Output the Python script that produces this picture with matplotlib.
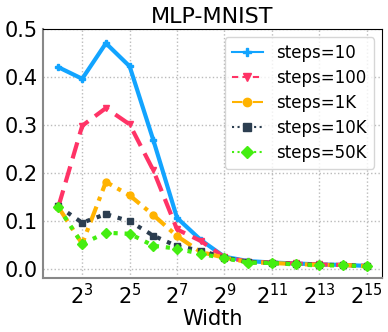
import matplotlib
matplotlib.use("Agg")
import matplotlib.pyplot as plt
from matplotlib.lines import Line2D
import numpy as np

widths = [2**k for k in range(2, 16)]
steps10 = [0.42, 0.396, 0.47, 0.422, 0.268, 0.106, 0.06, 0.025, 0.016, 0.013, 0.011, 0.009, 0.008, 0.006]
steps100 = [0.13, 0.298, 0.335, 0.301, 0.205, 0.082, 0.058, 0.024, 0.015, 0.013, 0.011, 0.009, 0.008, 0.006]
steps1k = [0.128, 0.052, 0.181, 0.153, 0.112, 0.068, 0.035, 0.023, 0.014, 0.012, 0.010, 0.008, 0.008, 0.005]
steps10k = [0.13, 0.096, 0.114, 0.099, 0.069, 0.047, 0.038, 0.023, 0.014, 0.012, 0.010, 0.008, 0.008, 0.005]
steps50k = [0.128, 0.052, 0.075, 0.073, 0.048, 0.042, 0.031, 0.022, 0.013, 0.012, 0.009, 0.007, 0.007, 0.005]
labels = ["steps=10", "steps=100", "steps=1K", "steps=10K", "steps=50K"]

fig = plt.figure(figsize=(3.88, 3.32), dpi=100)
ax = fig.add_axes([0.111, 0.163, 0.874, 0.750])

series = [steps10, steps100, steps1k, steps10k, steps50k]
colors = ["#12a4ff", "#ff3366", "#ffb300", "#2c3e50", "#44ee11"]
styles = ["-", (0, (4, 2)), (0, (4, 1.5, 1, 1.5)), ":", ":"]
leg_styles = ["-", (0, (3, 2)), (0, (5, 2, 1, 2)), ":", ":"]
markers = ["P", "v", "o", "s", "D"]
handles = []
for s, c, ls, lls, m, lab in zip(series, colors, styles, leg_styles, markers, labels):
    ax.plot(widths, s, color=c, linestyle=ls, linewidth=3, marker=m,
            markersize=5)
    handles.append(Line2D([], [], color=c, linestyle=lls, linewidth=1.5,
                          marker=m, markersize=6, label=lab))

ax.set_xscale("log", base=2)
ax.set_xticks([2**k for k in range(3, 16, 2)])
ax.minorticks_off()
ax.set_ylim(-0.019, 0.5)
ax.set_yticks([0.0, 0.1, 0.2, 0.3, 0.4, 0.5])
ax.tick_params(labelsize=15, length=0, pad=4)
ax.grid(True, linestyle=":", color="#bbbbbb", linewidth=1)
for side in ["left", "bottom"]:
    ax.spines[side].set_color("#888888")
    ax.spines[side].set_linewidth(1.5)
ax.set_xlabel("Width", fontsize=15, labelpad=0)
ax.set_title("MLP-MNIST", fontsize=16, pad=4)
leg = ax.legend(handles=handles, fontsize=12, loc="upper right", handlelength=1.9,
                borderaxespad=0.5, labelspacing=0.42, handletextpad=0.8)
fig.savefig("out.png", dpi=100)
